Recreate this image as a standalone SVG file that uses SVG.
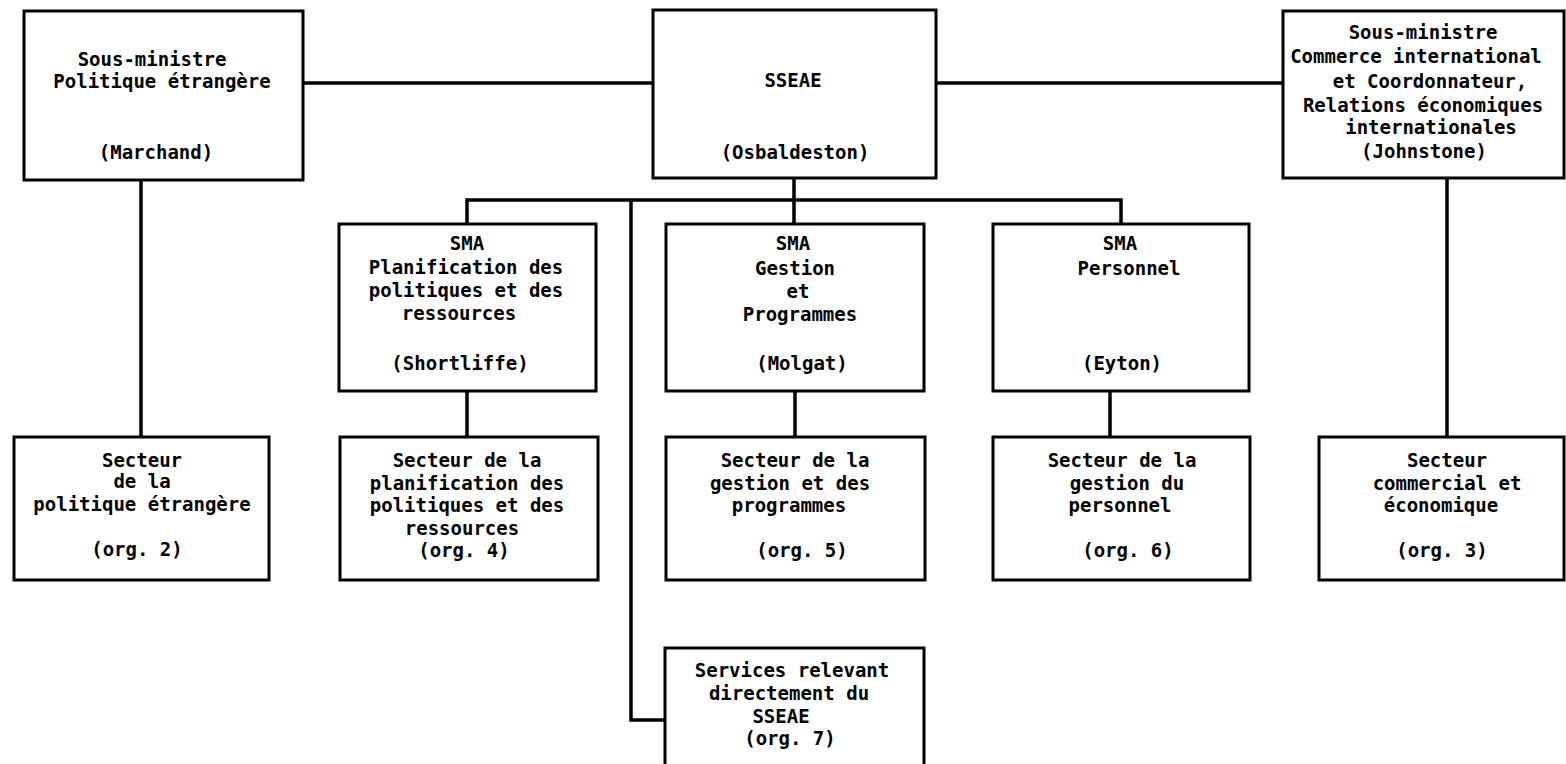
<svg xmlns="http://www.w3.org/2000/svg" width="1566" height="764" viewBox="0 0 1566 764">
<style>
.bg{fill:#fff}
.box{fill:#fff;stroke:#000;stroke-width:3}
.ln{fill:none;stroke:#000;stroke-width:3.5}
text{font-family:"DejaVu Sans Mono","Liberation Mono",monospace;font-weight:bold;font-size:19px;fill:#000;text-anchor:middle}
</style>
<rect class="bg" x="0" y="0" width="1566" height="764"/>
<g id="connectors">
<line class="ln" x1="303" y1="83" x2="653" y2="83"/>
<line class="ln" x1="936" y1="83" x2="1283" y2="83"/>
<line class="ln" x1="141" y1="180" x2="141" y2="437"/>
<line class="ln" x1="1447" y1="178" x2="1447" y2="437"/>
<line class="ln" x1="794" y1="178" x2="794" y2="224"/>
<polyline class="ln" points="467,224 467,200 1121,200 1121,224"/>
<polyline class="ln" points="631,200 631,720 665,720"/>
<line class="ln" x1="467" y1="390" x2="467" y2="437"/>
<line class="ln" x1="795" y1="391" x2="795" y2="437"/>
<line class="ln" x1="1110" y1="391" x2="1110" y2="437"/>
</g>
<g id="marchand">
<rect class="box" x="24" y="11" width="279" height="169"/>
<text x="152" y="66">Sous-ministre</text>
<text x="162" y="88">Politique étrangère</text>
<text x="156" y="159">(Marchand)</text>
</g>
<g id="sseae">
<rect class="box" x="653" y="10" width="283" height="168"/>
<text x="793" y="87">SSEAE</text>
<text x="795" y="159">(Osbaldeston)</text>
</g>
<g id="johnstone">
<rect class="box" x="1283" y="11" width="281" height="167"/>
<text x="1423" y="39">Sous-ministre</text>
<text x="1416" y="63">Commerce international</text>
<text x="1430" y="88">et Coordonnateur,</text>
<text x="1423" y="112">Relations économiques</text>
<text x="1431" y="134">internationales</text>
<text x="1424" y="158">(Johnstone)</text>
</g>
<g id="sma-planif">
<rect class="box" x="339" y="224" width="257" height="167"/>
<text x="467" y="250">SMA</text>
<text x="466" y="274">Planification des</text>
<text x="466" y="297">politiques et des</text>
<text x="459" y="320">ressources</text>
<text x="460" y="370">(Shortliffe)</text>
</g>
<g id="sma-gestion">
<rect class="box" x="666" y="224" width="258" height="167"/>
<text x="793" y="250">SMA</text>
<text x="795" y="275">Gestion</text>
<text x="798" y="298">et</text>
<text x="800" y="321">Programmes</text>
<text x="802" y="370">(Molgat)</text>
</g>
<g id="sma-personnel">
<rect class="box" x="993" y="224" width="256" height="167"/>
<text x="1120" y="250">SMA</text>
<text x="1129" y="275">Personnel</text>
<text x="1122" y="370">(Eyton)</text>
</g>
<g id="secteur-politique">
<rect class="box" x="14" y="437" width="255" height="143"/>
<text x="142" y="467">Secteur</text>
<text x="142" y="488">de la</text>
<text x="142" y="511">politique étrangère</text>
<text x="137" y="556">(org. 2)</text>
</g>
<g id="secteur-planif">
<rect class="box" x="340" y="437" width="258" height="143"/>
<text x="467" y="467">Secteur de la</text>
<text x="467" y="490">planification des</text>
<text x="467" y="512">politiques et des</text>
<text x="462" y="535">ressources</text>
<text x="464" y="557">(org. 4)</text>
</g>
<g id="secteur-gestion">
<rect class="box" x="666" y="437" width="259" height="143"/>
<text x="795" y="467">Secteur de la</text>
<text x="790" y="490">gestion et des</text>
<text x="789" y="512">programmes</text>
<text x="802" y="557">(org. 5)</text>
</g>
<g id="secteur-personnel">
<rect class="box" x="993" y="437" width="257" height="143"/>
<text x="1122" y="467">Secteur de la</text>
<text x="1127" y="490">gestion du</text>
<text x="1120" y="512">personnel</text>
<text x="1128" y="557">(org. 6)</text>
</g>
<g id="secteur-commercial">
<rect class="box" x="1319" y="437" width="245" height="143"/>
<text x="1447" y="467">Secteur</text>
<text x="1447" y="490">commercial et</text>
<text x="1441" y="512">économique</text>
<text x="1442" y="557">(org. 3)</text>
</g>
<g id="services">
<rect class="box" x="665" y="648" width="259" height="130"/>
<text x="792" y="677">Services relevant</text>
<text x="789" y="700">directement du</text>
<text x="781" y="723">SSEAE</text>
<text x="790" y="745">(org. 7)</text>
</g>
</svg>
